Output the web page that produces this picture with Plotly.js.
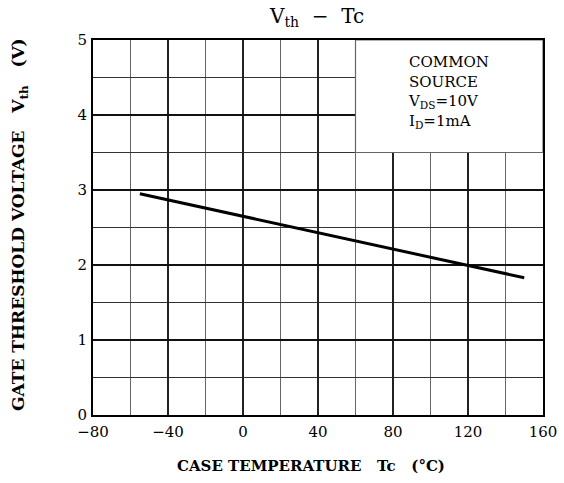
<!DOCTYPE html>
<html>
<head>
<meta charset="utf-8">
<script src="https://cdn.plot.ly/plotly-3.0.1.min.js"></script>
<style>html,body{margin:0;padding:0;background:#fff;}#chart{width:564px;height:483px;}</style>
</head>
<body>
<div id="chart"></div>
<script>
// Data
const caseTemp = [-55, 0, 40, 80, 120, 150];
const vth = [2.95, 2.65, 2.43, 2.21, 1.99, 1.83];
const xTickVals = [-80, -40, 0, 40, 80, 120, 160];
const xTickText = ["\u221280", "\u221240", "0", "40", "80", "120", "160"];
const yTickVals = [0, 1, 2, 3, 4, 5];
const yTickText = ["0", "1", "2", "3", "4", "5"];
const noteLines = ["COMMON", "SOURCE", "V<sub>DS</sub>=10V", "I<sub>D</sub>=1mA"];
const chartTitle = "V<sub>th</sub>  \u2212  Tc";
const xTitle = "CASE TEMPERATURE   Tc   (\u00b0C)";
const yTitle = "GATE THRESHOLD VOLTAGE   V<sub>th</sub>   (V)";

const serif = "DejaVu Serif";

const trace = {
  x: caseTemp, y: vth, mode: "lines", type: "scatter",
  line: {color: "#000", width: 3}, hoverinfo: "skip", showlegend: false
};

const layout = {
  width: 564, height: 483,
  margin: {l: 93, r: 21, t: 40, b: 68},
  paper_bgcolor: "#fff", plot_bgcolor: "#fff",
  font: {family: serif, color: "#000", size: 14},
  xaxis: {
    range: [-80, 160], tickvals: xTickVals, ticktext: xTickText,
    showgrid: true, gridcolor: "#222", gridwidth: 1.3,
    minor: {dtick: 20, tick0: -80, showgrid: true, gridcolor: "#666", gridwidth: 1.2},
    zeroline: false, showline: true, linecolor: "#000", linewidth: 2, mirror: true,
    ticks: "", ticklabelstandoff: 2, tickfont: {family: serif, size: 15}
  },
  yaxis: {
    range: [0, 5], tickvals: yTickVals, ticktext: yTickText,
    showgrid: true, gridcolor: "#111", gridwidth: 1.5,
    minor: {dtick: 0.5, tick0: 0, showgrid: true, gridcolor: "#333", gridwidth: 1.2},
    zeroline: false, showline: true, linecolor: "#000", linewidth: 2, mirror: true,
    ticks: "", ticklabelstandoff: 1, tickfont: {family: serif, size: 15}
  },
  shapes: [{
    type: "rect", xref: "x", yref: "y", x0: 60, x1: 160, y0: 3.5, y1: 5,
    fillcolor: "#fff", line: {color: "#666", width: 1.2}, layer: "above"
  }],
  annotations: [
    {
      xref: "x", yref: "y", x: 87, y: 4.86, xanchor: "left", yanchor: "top",
      align: "left", showarrow: false, text: noteLines.join("<br>"),
      font: {family: serif, size: 15, color: "#000"}
    },
    {
      xref: "paper", yref: "paper", x: 0.496, y: 1.06, xanchor: "center", yanchor: "middle",
      showarrow: false, text: chartTitle, font: {family: serif, size: 20, color: "#000"}
    },
    {
      xref: "paper", yref: "paper", x: 0.484, y: -0.136, xanchor: "center", yanchor: "middle",
      showarrow: false, text: xTitle, font: {family: serif, size: 15, color: "#000", weight: "bold"}
    },
    {
      xref: "paper", yref: "paper", x: -0.162, y: 0.507, xanchor: "center", yanchor: "middle",
      textangle: -90, showarrow: false, text: yTitle,
      font: {family: serif, size: 17, color: "#000", weight: "bold"}
    }
  ]
};

Plotly.newPlot("chart", [trace], layout, {displayModeBar: false, staticPlot: true});
</script>
</body>
</html>
